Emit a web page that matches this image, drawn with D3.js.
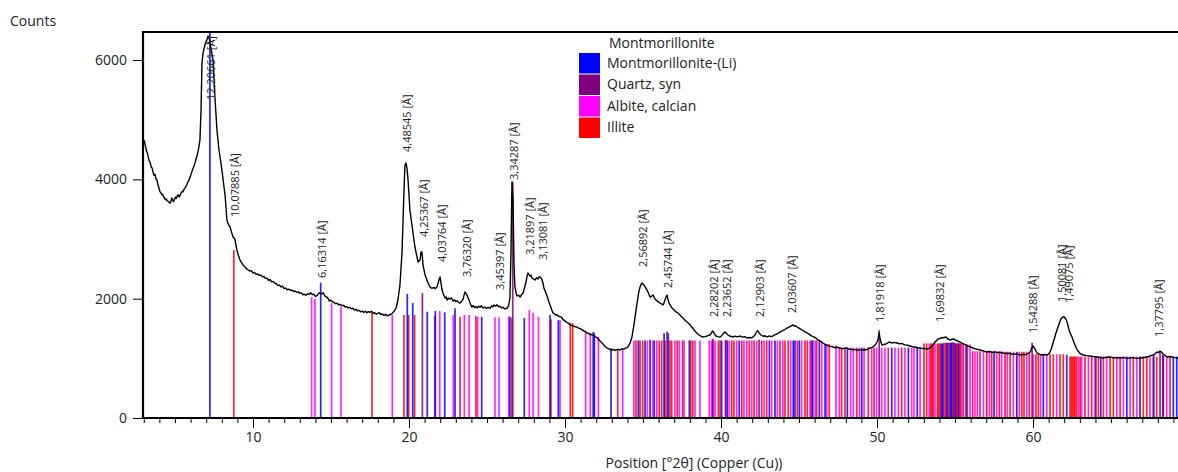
<!DOCTYPE html>
<html lang="en">
<head>
<meta charset="UTF-8">
<title>XRD scan - Montmorillonite</title>
<script src="https://cdn.jsdelivr.net/npm/d3@7"></script>
<style>
    body { margin: 0; background: #ffffff; }
    svg text { font-family: "Open Sans", "Noto Sans", sans-serif; fill: #222; }
    .stick { stroke-width: 1.7; opacity: 0.85; }
    .scan { fill: none; stroke: #000; stroke-width: 1.4; stroke-linejoin: round; }
</style>
</head>
<body>
<svg id="chart" width="1178" height="472"></svg>

<script>
    // measured scan, [position °2θ, counts]
    let scan = [
        [3.01,4659],[3.06,4610],[3.12,4540],[3.18,4470],[3.24,4430],[3.3,4360],[3.36,4300],[3.42,4275],[3.48,4200],
        [3.54,4190],[3.6,4110],[3.66,4070],[3.72,4085],[3.78,4010],[3.85,3985],[3.91,3905],[3.97,3860],[4.03,3800],
        [4.09,3775],[4.15,3745],[4.21,3750],[4.27,3705],[4.33,3690],[4.39,3660],[4.45,3668],[4.51,3640],[4.57,3632],
        [4.63,3610],[4.69,3600],[4.75,3645],[4.8,3690],[4.85,3650],[4.91,3625],[4.97,3665],[5.03,3700],[5.09,3685],
        [5.15,3725],[5.21,3740],[5.27,3705],[5.33,3735],[5.39,3770],[5.45,3795],[5.51,3790],[5.57,3830],[5.63,3850],
        [5.69,3880],[5.75,3905],[5.81,3945],[5.87,3975],[5.93,4010],[5.99,4050],[6.05,4100],[6.11,4150],[6.17,4195],
        [6.23,4230],[6.29,4280],[6.35,4340],[6.41,4390],[6.47,4460],[6.53,4540],[6.6,4660],
        [6.67,5162],[6.73,5950],[6.8,6120],[6.92,6251],[7.0,6320],[7.05,6335],[7.12,6402],[7.18,6380],[7.24,6302],
        [7.32,6180],[7.44,6000],[7.56,5380],[7.69,4827],[7.82,4492],[7.92,4320],[8.01,4156],[8.1,3960],[8.21,3737],
        [8.33,3318],[8.43,3240],[8.53,3201],[8.62,3120],[8.72,3034],[8.79,3020],[8.85,2983],[8.97,2816],[9.07,2720],
        [9.17,2648],[9.27,2600],[9.38,2560],[9.49,2531],[9.6,2500],
        [9.7,2480],[9.8,2462],[9.9,2470],[10.0,2430],[10.1,2440],[10.2,2408],[10.3,2415],[10.4,2390],[10.5,2398],
        [10.6,2365],[10.7,2372],[10.8,2340],[10.9,2345],[11.0,2305],[11.1,2318],[11.2,2280],[11.3,2290],[11.4,2260],
        [11.5,2250],[11.6,2222],[11.7,2228],[11.8,2196],[11.9,2210],[12.0,2170],[12.1,2178],[12.2,2150],[12.3,2160],
        [12.4,2138],[12.5,2145],[12.6,2120],[12.7,2128],[12.8,2105],[12.9,2115],[13.0,2090],[13.1,2098],[13.2,2065],
        [13.3,2075],[13.4,2055],[13.5,2085],[13.6,2070],[13.7,2098],[13.8,2068],[13.9,2075],[14.0,2040],[14.1,2050],
        [14.2,2085],[14.3,2100],[14.4,2080],[14.5,2100],[14.6,2050],[14.7,2030],[14.8,2010],[14.9,1960],[15.0,1975],
        [15.1,1950],[15.2,1935],[15.3,1915],[15.4,1925],[15.5,1895],[15.6,1905],[15.7,1880],[15.8,1890],[15.9,1860],
        [16.0,1870],[16.1,1845],[16.2,1855],[16.3,1830],[16.4,1840],[16.5,1810],[16.6,1822],[16.7,1795],[16.8,1805],
        [16.9,1780],[17.0,1792],[17.1,1770],[17.2,1790],[17.3,1765],[17.4,1782],[17.5,1770],[17.6,1790],[17.7,1755],
        [17.8,1765],[17.9,1740],[18.0,1755],[18.1,1765],[18.2,1735],[18.3,1745],[18.4,1720],[18.5,1738],[18.6,1712],
        [18.7,1722],[18.8,1735],[18.9,1745],[18.97,1770],[19.05,1790],[19.17,1844],[19.29,1978],[19.42,2229],
        [19.55,2765],[19.62,3318],[19.68,3821],[19.74,4240],[19.81,4274],[19.87,4190],[19.94,3989],[20.06,3486],
        [20.19,3235],[20.38,2866],[20.58,2615],[20.71,2648],[20.77,2782],[20.83,2782],[20.9,2564],[21.03,2397],
        [21.22,2263],[21.35,2196],[21.45,2175],[21.6,2185],[21.7,2170],[21.79,2200],[21.87,2260],[21.92,2313],
        [21.99,2363],[22.06,2250],[22.12,2145],[22.2,2080],[22.31,2011],[22.38,2030],[22.44,1978],[22.52,2010],
        [22.63,1994],[22.72,2015],[22.82,1961],[22.92,1980],[23.0,1950],[23.08,1965],[23.17,1940],[23.27,1927],
        [23.36,1955],[23.46,1985],[23.53,2060],[23.59,2112],[23.66,2085],[23.72,2061],[23.79,2010],[23.85,1978],
        [23.95,1900],[24.04,1860],[24.12,1885],[24.2,1850],[24.29,1870],[24.38,1845],[24.46,1875],[24.55,1855],
        [24.64,1880],[24.74,1842],[24.87,1860],[24.97,1835],[25.08,1855],[25.19,1840],[25.3,1880],[25.38,1860],
        [25.45,1895],[25.54,1875],[25.64,1900],[25.73,1865],[25.83,1875],[25.93,1845],[26.03,1855],[26.12,1830],
        [26.22,1835],[26.3,1845],[26.38,1880],[26.47,2011],[26.54,2816],[26.6,3955],[26.67,3654],[26.73,2564],
        [26.79,2196],[26.86,2100],[26.92,2045],[27.02,2060],[27.12,2028],[27.22,2070],[27.31,2095],[27.4,2180],
        [27.5,2279],[27.57,2380],[27.63,2430],[27.7,2400],[27.76,2380],[27.82,2395],[27.88,2346],[27.98,2330],
        [28.08,2313],[28.17,2350],[28.27,2329],[28.34,2370],[28.4,2363],[28.47,2345],[28.53,2313],[28.6,2250],
        [28.65,2179],[28.75,2110],[28.85,2045],[28.95,1960],[29.04,1894],[29.14,1820],[29.23,1760],[29.32,1745],
        [29.4,1725],[29.49,1730],[29.58,1705],[29.68,1700],[29.78,1690],[29.86,1650],[29.94,1640],[30.03,1620],
        [30.13,1600],[30.22,1590],[30.3,1565],[30.38,1555],[30.45,1550],[30.55,1540],[30.65,1530],[30.77,1525],
        [30.87,1505],[30.97,1498],[31.09,1478],[31.2,1460],[31.3,1450],[31.41,1425],[31.5,1418],[31.6,1400],
        [31.73,1395],[31.83,1380],[31.93,1365],[32.05,1345],[32.15,1320],[32.26,1285],[32.37,1260],[32.48,1225],
        [32.58,1195],[32.69,1175],[32.8,1160],[32.9,1148],[33.01,1140],[33.12,1150],[33.22,1135],[33.33,1145],
        [33.44,1150],[33.55,1140],[33.65,1160],[33.75,1155],[33.85,1168],[33.97,1175],[34.07,1210],[34.17,1257],
        [34.29,1358],[34.42,1559],[34.52,1750],[34.62,1927],[34.72,2100],[34.81,2196],[34.88,2240],[34.94,2263],
        [35.0,2245],[35.06,2229],[35.16,2190],[35.26,2145],[35.35,2090],[35.45,2028],[35.54,2040],[35.64,2061],
        [35.73,2010],[35.83,1978],[35.96,1950],[36.09,1927],[36.18,1915],[36.28,1894],[36.35,1930],[36.41,1978],
        [36.48,2030],[36.54,2061],[36.6,1990],[36.67,1927],[36.76,1880],[36.86,1844],[36.98,1815],[37.12,1777],
        [37.24,1760],[37.37,1726],[37.5,1690],[37.63,1659],[37.72,1630],[37.82,1609],[37.95,1580],[38.08,1542],
        [38.2,1500],[38.33,1458],[38.46,1420],[38.59,1391],[38.72,1370],[38.85,1358],[38.97,1365],[39.1,1374],
        [39.2,1385],[39.29,1391],[39.38,1420],[39.45,1458],[39.52,1440],[39.6,1400],[39.68,1374],[39.8,1365],
        [39.94,1358],[40.04,1380],[40.13,1408],[40.2,1430],[40.26,1441],[40.35,1415],[40.45,1391],[40.6,1370],
        [40.77,1358],[40.9,1372],[41.05,1360],[41.22,1374],[41.38,1355],[41.52,1365],[41.67,1341],[41.82,1350],
        [41.95,1345],[42.05,1358],[42.15,1385],[42.24,1425],[42.32,1460],[42.37,1458],[42.45,1420],[42.56,1391],
        [42.7,1370],[42.82,1378],[42.95,1358],[43.1,1375],[43.22,1365],[43.33,1374],[43.45,1395],[43.6,1410],
        [43.78,1441],[43.92,1460],[44.08,1480],[44.23,1508],[44.35,1525],[44.5,1545],[44.62,1559],[44.7,1540],
        [44.78,1548],[44.87,1525],[45.0,1505],[45.1,1490],[45.19,1475],[45.3,1460],[45.4,1440],[45.51,1425],
        [45.62,1410],[45.75,1385],[45.86,1370],[45.96,1358],[46.08,1340],[46.2,1310],[46.35,1291],[46.48,1265],
        [46.62,1240],[46.79,1223],[46.92,1205],[47.05,1200],[47.18,1190],[47.3,1178],[47.45,1185],[47.63,1173],
        [47.78,1160],[47.92,1172],[48.08,1173],[48.22,1150],[48.35,1158],[48.46,1140],[48.6,1150],[48.75,1135],
        [48.91,1145],[49.05,1135],[49.18,1148],[49.29,1140],[49.42,1160],[49.55,1173],[49.68,1185],[49.81,1207],
        [49.9,1230],[50.0,1274],[50.07,1330],[50.13,1425],[50.19,1341],[50.26,1260],[50.32,1223],[50.45,1235],
        [50.58,1240],[50.7,1262],[50.83,1274],[50.95,1255],[51.1,1268],[51.28,1257],[51.42,1245],[51.55,1250],
        [51.67,1240],[51.8,1225],[51.95,1220],[52.12,1207],[52.28,1195],[52.45,1190],[52.6,1178],[52.76,1173],
        [52.92,1162],[53.05,1165],[53.21,1156],[53.32,1165],[53.4,1173],[53.5,1198],[53.59,1223],[53.66,1250],
        [53.72,1274],[53.82,1300],[53.91,1324],[54.02,1330],[54.1,1345],[54.17,1341],[54.3,1350],[54.42,1358],
        [54.52,1330],[54.6,1320],[54.68,1307],[54.8,1320],[54.94,1324],[55.05,1300],[55.18,1290],[55.32,1274],
        [55.45,1255],[55.58,1240],[55.71,1223],[55.85,1205],[56.0,1190],[56.15,1173],[56.3,1160],[56.45,1150],
        [56.6,1140],[56.75,1128],[56.9,1118],[57.05,1106],[57.2,1115],[57.38,1100],[57.56,1106],[57.72,1095],
        [57.9,1098],[58.08,1089],[58.25,1080],[58.45,1085],[58.65,1073],[58.82,1068],[59.0,1072],[59.17,1056],
        [59.35,1066],[59.5,1060],[59.62,1073],[59.72,1085],[59.81,1106],[59.88,1140],[59.94,1190],[60.0,1207],
        [60.07,1180],[60.13,1156],[60.2,1115],[60.26,1089],[60.4,1070],[60.58,1056],[60.74,1065],[60.9,1056],
        [61.0,1075],[61.09,1106],[61.18,1170],[61.28,1257],[61.38,1340],[61.47,1425],[61.54,1480],[61.6,1525],
        [61.7,1600],[61.79,1659],[61.86,1680],[61.92,1693],[61.98,1700],[62.05,1676],[62.12,1650],[62.18,1609],
        [62.25,1540],[62.31,1475],[62.4,1410],[62.5,1358],[62.6,1280],[62.69,1223],[62.78,1165],[62.88,1123],
        [63.02,1080],[63.21,1056],[63.42,1045],[63.65,1039],[63.85,1030],[64.1,1022],[64.3,1015],[64.49,1006],
        [64.7,1018],[64.94,1022],[65.15,1008],[65.35,1012],[65.58,1006],[65.8,1015],[66.0,1000],[66.22,1006],
        [66.45,1012],[66.65,1000],[66.86,1006],[67.1,1015],[67.31,1022],[67.5,1040],[67.69,1056],[67.82,1075],
        [67.95,1106],[68.05,1095],[68.14,1123],[68.25,1100],[68.33,1073],[68.45,1050],[68.59,1022],[68.75,1030],
        [68.91,1022],[69.1,1012],[69.29,1006],[69.42,1010]
    ];

    let phaseNames = ["Montmorillonite-(Li)", "Quartz, syn", "Albite, calcian", "Illite"];
    let phaseColors = ["#0000ff", "#800080", "#ff00ff", "#ff0000"];
    let legendTitle = "Montmorillonite";

    // reference patterns, [position °2θ, stick top in counts]
    let montLines = [
        [7.24,6600],[14.34,2268],[19.89,2078],[20.24,1927],[21.17,1782],[21.69,1793],[22.29,1771],[22.95,1838],
        [24.66,1698],[26.47,1698],[27.39,1676],[29.04,1726],[29.57,1640],[31.81,1440],[31.88,1420],[32.95,1170],
        [34.70,1300],[35.13,1300],[35.45,1310],[35.72,1300],[36.35,1420],[36.62,1420],[37.97,1300],[40.04,1300],
        [40.40,1300],[41.17,1300],[43.10,1300],[43.46,1300],[44.63,1300],[44.74,1300],[45.02,1300],[45.88,1300],
        [46.30,1290],[46.67,1240],[48.10,1180],[49.02,1180],[50.94,1180],[52.01,1180],[52.58,1180],[54.12,1250],
        [54.21,1250],[54.47,1260],[54.68,1260],[54.75,1260],[55.02,1250],[55.22,1250],[55.71,1230],[57.50,1120],
        [58.96,1110],[60.66,1070],[62.16,1060],[64.34,1030],[66.01,1030],[66.86,1030],[67.71,1030],[68.35,1040],
        [68.99,1030],[69.21,1030]
    ];
    let quartzLines = [
        [20.86,2095],[26.65,3960],[36.54,1450],[39.47,1330],[40.29,1310],[42.44,1310],[45.79,1300],[50.14,1475],
        [54.87,1270],[59.94,1260],[64.03,1040],[67.74,1060],[68.14,1100],[68.31,1060]
    ];
    let albiteLines = [
        [13.76,2028],[13.97,1994],[15.04,1927],[15.64,1866],[18.93,1726],[21.97,1793],[22.84,1726],[23.55,1726],
        [23.85,1726],[24.40,1698],[25.51,1688],[25.77,1688],[26.39,1698],[27.71,1810],[27.95,1765],[28.30,1698],
        [29.68,1640],[31.32,1450],[31.62,1420],[32.14,1363],[33.70,1140],
        [34.42,1300],[35.28,1300],[35.62,1300],[35.88,1300],[37.05,1300],[37.33,1300],[37.63,1300],[38.33,1300],
        [38.65,1300],[39.25,1300],[39.40,1300],[39.51,1300],[39.62,1300],[40.30,1300],[40.53,1300],[41.01,1300],
        [41.47,1300],[41.65,1300],[41.97,1300],[42.29,1300],[42.76,1300],[43.25,1300],[43.61,1300],[43.96,1300],
        [44.47,1300],[45.17,1300],[45.71,1300],[46.03,1300],[46.46,1290],[46.78,1240],[47.37,1220],[47.58,1180],
        [48.31,1180],[48.48,1180],[48.87,1180],[49.17,1180],[49.66,1180],[49.98,1180],[50.30,1180],[50.51,1180],
        [51.15,1180],[51.37,1180],[51.79,1180],[52.22,1180],[52.37,1180],[52.76,1180],[53.35,1250],[53.72,1250],
        [55.43,1250],[55.96,1230],[56.28,1120],[56.43,1120],[56.82,1120],[57.20,1120],[57.67,1120],[57.99,1120],
        [58.35,1110],[58.74,1110],[59.12,1110],[59.60,1110],[60.02,1070],[60.49,1070],[60.88,1070],[61.52,1070],
        [62.91,1030],[63.12,1030],[63.55,1030],[63.97,1030],[64.72,1030],[65.37,1030],[65.79,1030],[66.22,1030],
        [66.65,1030],[67.50,1030],[68.57,1030]
    ];
    let illiteLines = [
        [8.77,2816],[17.63,1760],[19.68,1726],[19.98,1726],[20.36,1726],[21.65,1710],[23.27,1698],[24.29,1710],
        [26.60,1680],[29.10,1654],[30.34,1597],[30.49,1590],[33.38,1140],
        [34.55,1300],[34.81,1300],[34.98,1300],[36.04,1300],[36.20,1300],[36.41,1300],[36.73,1300],[36.84,1300],
        [37.20,1300],[37.54,1300],[38.06,1300],[38.19,1300],[39.83,1300],[39.94,1300],[40.69,1300],[40.83,1300],
        [41.33,1300],[41.81,1300],[42.12,1300],[42.61,1300],[42.93,1300],[43.78,1300],[44.10,1300],[44.31,1300],
        [44.89,1300],[45.38,1300],[45.53,1300],[46.13,1300],[46.94,1240],[47.73,1180],[47.95,1180],[48.70,1180],
        [49.44,1180],[49.81,1180],[50.72,1180],[51.58,1180],[53.01,1250],[53.18,1250],[53.45,1250],[53.53,1250],
        [53.61,1250],[53.87,1250],[53.95,1250],[54.04,1250],[54.29,1260],[54.38,1260],[54.52,1260],[54.59,1260],
        [54.79,1260],[54.89,1260],[54.95,1260],[55.08,1250],[55.15,1250],[55.28,1250],[55.36,1250],[55.53,1240],
        [55.79,1230],[56.13,1120],[56.60,1120],[57.03,1120],[57.35,1120],[57.84,1120],[58.21,1110],[58.53,1110],
        [59.28,1110],[59.42,1110],[59.76,1110],[60.19,1070],[60.34,1070],[61.09,1070],[61.30,1070],[61.73,1070],
        [61.94,1070],[62.37,1030],[62.45,1030],[62.54,1030],[62.62,1030],[62.69,1030],[62.80,1030],[63.02,1030],
        [63.33,1030],[63.76,1030],[64.19,1030],[64.51,1030],[64.94,1030],[65.15,1030],[65.58,1030],[66.43,1030],
        [67.07,1030],[67.29,1030],[67.93,1030],[68.78,1030]
    ];

    // peak labels: [position °2θ, d-spacing text, label foot in counts]
    let peakLabels = [
        [7.236,"12,20661",5331],[8.767,"10,07885",3370],[14.36,"6,16314",2347],[19.777,"4,48545",4459],
        [20.866,"4,25367",3034],[22.00,"4,03764",2615],[23.62,"3,76320",2364],[25.77,"3,45397",2146],
        [26.645,"3,34287",3990],[27.69,"3,21897",2733],[28.49,"3,13081",2649],[34.90,"2,56892",2531],
        [36.53,"2,45744",2179],[39.46,"2,28202",1693],[40.29,"2,23652",1693],[42.42,"2,12903",1693],
        [44.46,"2,03607",1760],[50.10,"1,81918",1609],[53.95,"1,69832",1609],[59.90,"1,54288",1425],
        [61.76,"1,50081",1945],[62.22,"1,49075",1928],[67.98,"1,37795",1358]
    ];

    let yTicks = [0, 2000, 4000, 6000];
    let xTicks = [10, 20, 30, 40, 50, 60];

    const plotLeft = 143, plotTop = 32, plotRight = 1180, plotBottom = 418;

    let svg = d3.select("#chart");

    let x = d3.scaleLinear().domain([2.95, 69.42]).range([plotLeft, plotRight]);
    let y = d3.scaleLinear().domain([0, 6470]).range([plotBottom, plotTop]);

    svg.append("clipPath").attr("id", "plotclip")
        .append("rect")
        .attr("x", plotLeft).attr("y", plotTop)
        .attr("width", plotRight - plotLeft).attr("height", plotBottom - plotTop);

    let plot = svg.append("g").attr("clip-path", "url(#plotclip)");

    // stick patterns
    let phases = [illiteLines, albiteLines, montLines, quartzLines];
    let phaseIdx = [3, 2, 0, 1];
    phases.forEach((lines, i) => {
        plot.append("g")
            .selectAll("line")
            .data(lines)
            .join("line")
            .attr("class", "stick")
            .attr("x1", d => x(d[0])).attr("x2", d => x(d[0]))
            .attr("y1", y(0)).attr("y2", d => y(d[1]))
            .attr("stroke", phaseColors[phaseIdx[i]]);
    });

    // scan
    plot.append("path")
        .datum(scan)
        .attr("class", "scan")
        .attr("d", d3.line().x(d => x(d[0])).y(d => y(d[1])));

    // peak labels
    plot.append("g")
        .selectAll("text")
        .data(peakLabels)
        .join("text")
        .attr("transform", d => "translate(" + (x(d[0]) + 1.5) + "," + y(d[2]) + ") rotate(-90)")
        .attr("dy", "0.35em")
        .style("font-size", "11px")
        .text(d => d[1] + " [Å]");

    // axes
    let yAxis = d3.axisLeft(y).tickValues(yTicks).tickSize(10).tickPadding(6).tickFormat(d3.format("d"));
    let gy = svg.append("g").attr("transform", "translate(" + plotLeft + ",0)").call(yAxis);
    gy.select(".domain").remove();
    gy.selectAll("text").style("font-size", "14px").attr("fill", "#222");
    gy.selectAll("line").attr("stroke", "#000");

    let xMinor = d3.range(3, 70);
    svg.append("g")
        .attr("transform", "translate(0," + plotBottom + ")")
        .call(d3.axisBottom(x).tickValues(xMinor).tickSize(5).tickFormat(""))
        .call(g => g.select(".domain").remove());

    let gx = svg.append("g")
        .attr("transform", "translate(0," + plotBottom + ")")
        .call(d3.axisBottom(x).tickValues(xTicks).tickSize(10).tickPadding(4));
    gx.select(".domain").remove();
    gx.selectAll("text").style("font-size", "14px").attr("fill", "#222");

    // frame
    svg.append("path")
        .attr("d", "M" + (plotRight + 5) + "," + plotTop + "H" + plotLeft + "V" + plotBottom + "H" + (plotRight + 5))
        .attr("fill", "none")
        .attr("stroke", "#000")
        .attr("stroke-width", 2.2);

    svg.append("text")
        .attr("x", 10).attr("y", 26)
        .style("font-size", "14px")
        .text("Counts");

    svg.append("text")
        .attr("x", 694).attr("y", 468)
        .attr("text-anchor", "middle")
        .style("font-size", "14px")
        .text("Position [°2θ] (Copper (Cu))");

    // legend
    let legend = svg.append("g").attr("transform", "translate(579,43)");
    legend.append("text")
        .attr("x", 30).attr("y", 0).attr("dy", "0.35em")
        .style("font-size", "14px")
        .text(legendTitle);
    phaseNames.forEach((name, i) => {
        legend.append("rect")
            .attr("x", 0).attr("y", 10 + i * 21.5)
            .attr("width", 21).attr("height", 20.5)
            .attr("fill", phaseColors[i]);
        legend.append("text")
            .attr("x", 28).attr("y", 20 + i * 21.5).attr("dy", "0.35em")
            .style("font-size", "14px")
            .text(name);
    });
</script>
</body>
</html>
